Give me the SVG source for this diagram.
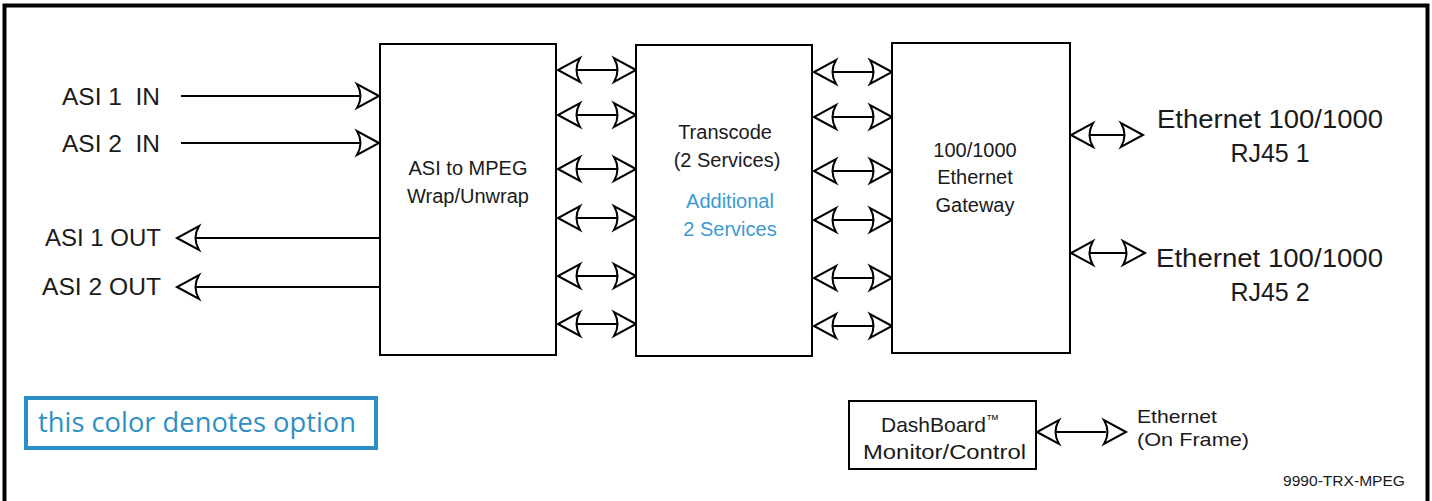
<svg xmlns="http://www.w3.org/2000/svg" width="1432" height="501" viewBox="0 0 1432 501">
<style>
  .frame { fill: none; stroke: #000; stroke-width: 4; }
  .box { fill: #fff; stroke: #000; stroke-width: 2; }
  .ln { fill: none; stroke: #000; stroke-width: 2; }
  .ah { fill: #fff; stroke: #000; stroke-width: 2; stroke-linejoin: miter; }
  text { font-family: "Liberation Sans", Arial, sans-serif; fill: #1a1a1a; }
  .lbl { font-size: 23px; }
  .big { font-size: 25px; }
  .in { font-size: 20px; text-anchor: middle; }
  .opt { fill: #3b9ad0; }
  .leg { font-family: "Open Sans", "Liberation Sans", sans-serif; font-size: 27px; fill: #2e8fc4; }
</style>
<defs>
  <path id="ah" class="ah" d="M0,0 L-22,-12 Q-15,0 -22,12 Z"/>
</defs>
<rect width="1432" height="501" fill="#fff"/>
<path class="frame" d="M4.5,501 V5.5 H1427.5 V501"/>

<g id="connectors">
  <!-- ASI inputs -->
  <line class="ln" x1="181" y1="96" x2="360" y2="96"/>
  <use href="#ah" x="379" y="96"/>
  <line class="ln" x1="181" y1="143" x2="360" y2="143"/>
  <use href="#ah" x="379" y="143"/>
  <!-- ASI outputs -->
  <line class="ln" x1="196" y1="238" x2="380" y2="238"/>
  <use href="#ah" transform="translate(177,238) rotate(180)"/>
  <line class="ln" x1="196" y1="287" x2="380" y2="287"/>
  <use href="#ah" transform="translate(177,287) rotate(180)"/>
  <!-- box1 <-> box2 -->
  <g id="c12">
    <line class="ln" x1="575" y1="70" x2="618" y2="70"/>
    <use href="#ah" transform="translate(558,70) rotate(180)"/><use href="#ah" x="636" y="70"/>
    <line class="ln" x1="575" y1="115" x2="618" y2="115"/>
    <use href="#ah" transform="translate(558,115) rotate(180)"/><use href="#ah" x="636" y="115"/>
    <line class="ln" x1="575" y1="169" x2="618" y2="169"/>
    <use href="#ah" transform="translate(558,169) rotate(180)"/><use href="#ah" x="636" y="169"/>
    <line class="ln" x1="575" y1="218" x2="618" y2="218"/>
    <use href="#ah" transform="translate(558,218) rotate(180)"/><use href="#ah" x="636" y="218"/>
    <line class="ln" x1="575" y1="276" x2="618" y2="276"/>
    <use href="#ah" transform="translate(558,276) rotate(180)"/><use href="#ah" x="636" y="276"/>
    <line class="ln" x1="575" y1="324" x2="618" y2="324"/>
    <use href="#ah" transform="translate(558,324) rotate(180)"/><use href="#ah" x="636" y="324"/>
  </g>
  <!-- box2 <-> box3 -->
  <g id="c23">
    <line class="ln" x1="831" y1="72" x2="874" y2="72"/>
    <use href="#ah" transform="translate(814,72) rotate(180)"/><use href="#ah" x="892" y="72"/>
    <line class="ln" x1="831" y1="117" x2="874" y2="117"/>
    <use href="#ah" transform="translate(814,117) rotate(180)"/><use href="#ah" x="892" y="117"/>
    <line class="ln" x1="831" y1="171" x2="874" y2="171"/>
    <use href="#ah" transform="translate(814,171) rotate(180)"/><use href="#ah" x="892" y="171"/>
    <line class="ln" x1="831" y1="220" x2="874" y2="220"/>
    <use href="#ah" transform="translate(814,220) rotate(180)"/><use href="#ah" x="892" y="220"/>
    <line class="ln" x1="831" y1="278" x2="874" y2="278"/>
    <use href="#ah" transform="translate(814,278) rotate(180)"/><use href="#ah" x="892" y="278"/>
    <line class="ln" x1="831" y1="326" x2="874" y2="326"/>
    <use href="#ah" transform="translate(814,326) rotate(180)"/><use href="#ah" x="892" y="326"/>
  </g>
  <!-- Ethernet outputs -->
  <line class="ln" x1="1088" y1="135" x2="1124" y2="135"/>
  <use href="#ah" transform="translate(1071,135) rotate(180)"/><use href="#ah" x="1143" y="135"/>
  <line class="ln" x1="1088" y1="253" x2="1126" y2="253"/>
  <use href="#ah" transform="translate(1071,253) rotate(180)"/><use href="#ah" x="1145" y="253"/>
  <!-- DashBoard -->
  <line class="ln" x1="1054" y1="432" x2="1106" y2="432"/>
  <use href="#ah" transform="translate(1037,432) rotate(180)"/><use href="#ah" x="1126" y="432"/>
</g>

<g id="asi-labels">
  <text class="lbl" x="62" y="105" xml:space="preserve" textLength="98" lengthAdjust="spacingAndGlyphs">ASI 1  IN</text>
  <text class="lbl" x="62" y="152" xml:space="preserve" textLength="98" lengthAdjust="spacingAndGlyphs">ASI 2  IN</text>
  <text class="lbl" x="45" y="246" textLength="116" lengthAdjust="spacingAndGlyphs">ASI 1 OUT</text>
  <text class="lbl" x="42" y="295" textLength="119" lengthAdjust="spacingAndGlyphs">ASI 2 OUT</text>
</g>

<g id="node-asi-mpeg">
  <rect class="box" x="380" y="44" width="176" height="311"/>
  <text class="in" x="468" y="175">ASI to MPEG</text>
  <text class="in" x="468" y="203">Wrap/Unwrap</text>
</g>

<g id="node-transcode">
  <rect class="box" x="636" y="45" width="176" height="311"/>
  <text class="in" x="725" y="139">Transcode</text>
  <text class="in" x="727" y="167">(2 Services)</text>
  <text class="in opt" x="730" y="208">Additional</text>
  <text class="in opt" x="730" y="236">2 Services</text>
</g>

<g id="node-gateway">
  <rect class="box" x="892" y="43" width="178" height="310"/>
  <text class="in" x="975" y="157">100/1000</text>
  <text class="in" x="975" y="184">Ethernet</text>
  <text class="in" x="975" y="212">Gateway</text>
</g>

<g id="ethernet-labels">
  <text class="big" x="1157" y="128" textLength="226" lengthAdjust="spacingAndGlyphs">Ethernet 100/1000</text>
  <text class="big" x="1270" y="162" text-anchor="middle">RJ45 1</text>
  <text class="big" x="1156" y="267" textLength="227" lengthAdjust="spacingAndGlyphs">Ethernet 100/1000</text>
  <text class="big" x="1270" y="301" text-anchor="middle">RJ45 2</text>
</g>

<g id="node-dashboard">
  <rect class="box" x="849" y="401" width="187" height="68"/>
  <text x="940" y="432" text-anchor="middle" font-size="21">DashBoard<tspan font-size="13" dy="-8">™</tspan></text>
  <text x="863" y="459" font-size="21" textLength="163" lengthAdjust="spacingAndGlyphs">Monitor/Control</text>
</g>

<g id="ethernet-frame">
  <text x="1137" y="423" font-size="19" textLength="80" lengthAdjust="spacingAndGlyphs">Ethernet</text>
  <text x="1137" y="446" font-size="19" textLength="112" lengthAdjust="spacingAndGlyphs">(On Frame)</text>
</g>

<g id="legend">
  <rect x="26" y="398" width="350" height="50" fill="#fff" stroke="#2e8fc4" stroke-width="4"/>
  <text class="leg" x="38" y="432" textLength="318" lengthAdjust="spacingAndGlyphs">this color denotes option</text>
</g>

<text x="1405" y="486" font-size="15" text-anchor="end" textLength="122" lengthAdjust="spacingAndGlyphs">9990-TRX-MPEG</text>
</svg>
